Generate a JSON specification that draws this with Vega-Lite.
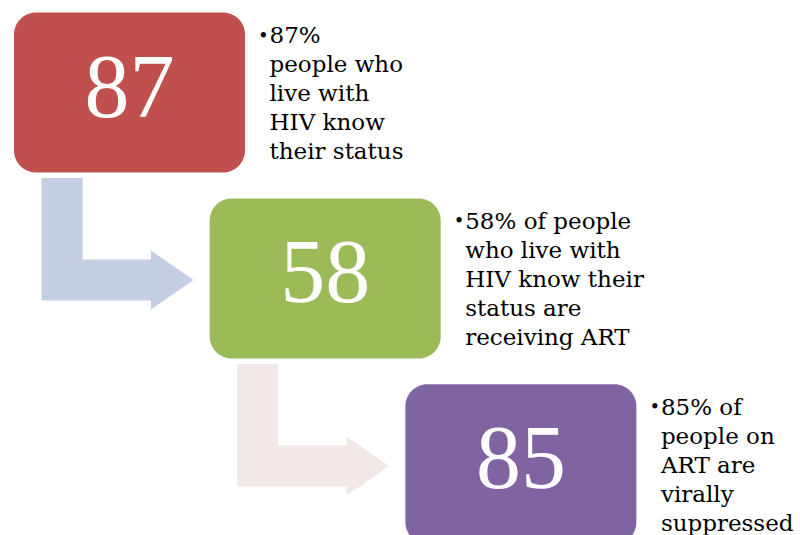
{
  "$schema": "https://vega.github.io/schema/vega-lite/v6.json",
  "width": 800,
  "height": 535,
  "autosize": {"type": "fit", "contains": "padding"},
  "padding": 0,
  "background": "white",
  "config": {"view": {"stroke": null}},
  "datasets": {
    "steps": [
      {"step": 1, "value": "87", "desc": "87%\npeople who\nlive with\nHIV know\ntheir status"},
      {"step": 2, "value": "58", "desc": "58% of people\nwho live with\nHIV know their\nstatus are\nreceiving ART"},
      {"step": 3, "value": "85", "desc": "85% of\npeople on\nART are\nvirally\nsuppressed"}
    ],
    "arrows": [
      {"from": 1, "to": 2},
      {"from": 2, "to": 3}
    ]
  },
  "layer": [
    {
      "data": {"name": "arrows"},
      "mark": {
        "type": "point",
        "shape": "M-88,85.5L-47,85.5L-47,167L21.5,167L21.5,158L64,187.5L21.5,217L21.5,208L-88,208Z",
        "size": 4,
        "filled": true,
        "opacity": 1,
        "strokeWidth": 0
      },
      "encoding": {
        "x": {"field": "from", "type": "quantitative", "scale": {"domain": [0.3383, 4.4262], "nice": false, "zero": false}, "axis": null},
        "y": {"field": "from", "type": "quantitative", "scale": {"domain": [0.5024, 3.3803], "nice": false, "zero": false, "reverse": true}, "axis": null},
        "fill": {"field": "from", "type": "nominal", "scale": {"domain": [1, 2], "range": ["#C3CEE2", "#F2E7E7"]}, "legend": null}
      }
    },
    {
      "data": {"name": "steps"},
      "mark": {"type": "rect", "width": 231, "height": 160, "cornerRadius": 22, "clip": true},
      "encoding": {
        "x": {"field": "step", "type": "quantitative"},
        "y": {"field": "step", "type": "quantitative"},
        "color": {"field": "step", "type": "nominal", "scale": {"domain": [1, 2, 3], "range": ["#C0504D", "#9BBB59", "#8064A2"]}, "legend": null}
      }
    },
    {
      "data": {"name": "steps"},
      "mark": {"type": "text", "font": "Liberation Serif", "fontSize": 90, "color": "white", "align": "center", "baseline": "middle", "dy": -3},
      "encoding": {
        "x": {"field": "step", "type": "quantitative"},
        "y": {"field": "step", "type": "quantitative"},
        "text": {"field": "value", "type": "nominal"}
      }
    },
    {
      "data": {"name": "steps"},
      "mark": {"type": "text", "font": "DejaVu Serif", "fontSize": 18, "color": "black", "align": "left", "baseline": "alphabetic", "dx": 128.5, "dy": -51},
      "encoding": {
        "x": {"field": "step", "type": "quantitative"},
        "y": {"field": "step", "type": "quantitative"},
        "text": {"value": "•"}
      }
    },
    {
      "data": {"name": "steps"},
      "mark": {"type": "text", "font": "DejaVu Serif", "fontSize": 23, "color": "black", "align": "left", "baseline": "alphabetic", "dx": 140, "dy": -49.5, "lineHeight": 29, "lineBreak": "\n", "clip": true},
      "encoding": {
        "x": {"field": "step", "type": "quantitative"},
        "y": {"field": "step", "type": "quantitative"},
        "text": {"field": "desc", "type": "nominal"}
      }
    }
  ]
}
